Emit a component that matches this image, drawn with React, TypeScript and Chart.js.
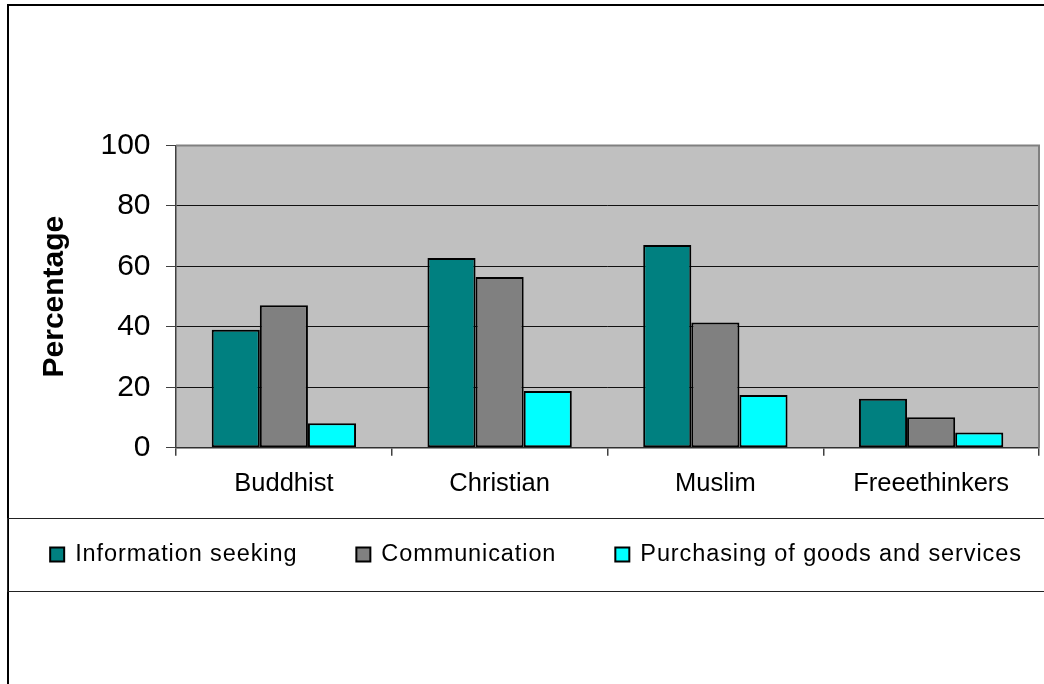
import React, { useEffect, useRef } from "react";
import { Chart, registerables } from "chart.js";

Chart.register(...registerables);

// ---- data ----
const categories = ["Buddhist", "Christian", "Muslim", "Freeethinkers"];
const seriesNames = [
  "Information seeking",
  "Communication",
  "Purchasing of goods and services",
];
const informationSeeking = [39.0, 62.8, 67.1, 16.2];
const communication = [47.1, 56.5, 41.4, 10.1];
const purchasing = [8.1, 18.8, 17.4, 5.0];
const seriesColors = ["#008080", "#808080", "#00FFFF"];
const yAxisTitle = "Percentage";
const yMin = 0;
const yMax = 100;
const yStep = 20;

const FONT = '"Liberation Sans", Arial, Helvetica, sans-serif';

const LEGEND = {
  fontSize: 23.5,
  spacing: "0.9px",
  box: 14,
  gap: 59,
  centerX: 536,
  middleY: 554.2,
  boxTop: 547.5,
};

const decorPlugin = {
  id: "decor",
  beforeDraw(chart: any) {
    const { ctx, chartArea: a } = chart;
    ctx.save();
    ctx.fillStyle = "#C0C0C0";
    ctx.fillRect(a.left, a.top, a.right - a.left, a.bottom - a.top);
    ctx.restore();
  },
  afterDatasetsDraw(chart: any) {
    const { ctx, chartArea: a } = chart;
    ctx.save();
    ctx.strokeStyle = "#808080";
    ctx.lineWidth = 2;
    ctx.beginPath();
    ctx.moveTo(a.left, a.top);
    ctx.lineTo(a.right, a.top);
    ctx.lineTo(a.right, a.bottom);
    ctx.stroke();
    ctx.restore();
  },
  afterDraw(chart: any) {
    const ctx = chart.ctx;
    ctx.save();
    // outer frame
    ctx.strokeStyle = "#000000";
    ctx.lineWidth = 2;
    ctx.strokeRect(8, 5, 1300, 900);
    // legend box
    ctx.strokeStyle = "#222222";
    ctx.lineWidth = 1;
    ctx.strokeRect(7.5, 518.5, 1300, 73);

    // legend items
    ctx.font = `${LEGEND.fontSize}px ${FONT}`;
    (ctx as any).letterSpacing = LEGEND.spacing;
    ctx.textBaseline = "middle";
    ctx.textAlign = "left";
    const items = chart.data.datasets.map((ds: any) => ({
      text: ds.label as string,
      fill: ds.backgroundColor as string,
      stroke: ds.borderColor as string,
      lw: ds.borderWidth as number,
    }));
    const textOffset = LEGEND.box + 11;
    const widths = items.map(
      (it: any) => textOffset + ctx.measureText(it.text).width
    );
    const total =
      widths.reduce((s: number, w: number) => s + w, 0) +
      LEGEND.gap * (items.length - 1);
    let x = LEGEND.centerX - total / 2;
    items.forEach((it: any, i: number) => {
      ctx.fillStyle = it.fill;
      ctx.fillRect(x, LEGEND.boxTop, LEGEND.box, LEGEND.box);
      ctx.strokeStyle = it.stroke;
      ctx.lineWidth = it.lw;
      ctx.strokeRect(x, LEGEND.boxTop, LEGEND.box, LEGEND.box);
      ctx.fillStyle = "#000000";
      ctx.fillText(it.text, x + textOffset, LEGEND.middleY);
      x += widths[i] + LEGEND.gap;
    });
    (ctx as any).letterSpacing = "0px";
    ctx.restore();
  },
};

export default function App() {
  const canvasRef = useRef<HTMLCanvasElement | null>(null);

  useEffect(() => {
    const canvas = canvasRef.current;
    if (!canvas) return;
    const values = [informationSeeking, communication, purchasing];
    const chart = new Chart(canvas, {
      type: "bar",
      data: {
        labels: categories,
        datasets: seriesNames.map((name, i) => ({
          label: name,
          data: values[i],
          backgroundColor: seriesColors[i],
          borderColor: "#000000",
          borderWidth: 2,
          borderSkipped: false,
          categoryPercentage: 0.669,
          barPercentage: 1,
        })),
      },
      options: {
        animation: false,
        responsive: false,
        maintainAspectRatio: false,
        events: [],
        layout: {
          padding: { left: 33, right: 5, top: 145.5, bottom: 176.3 },
        },
        plugins: {
          tooltip: { enabled: false },
          title: { display: false },
          legend: { display: false },
        },
        scales: {
          x: {
            offset: true,
            afterFit(scale: any) {
              scale.height = 60;
            },
            grid: {
              display: true,
              offset: true,
              drawOnChartArea: false,
              drawTicks: true,
              tickLength: 8,
              color: "#404040",
              lineWidth: 1.5,
            },
            border: { display: true, color: "#303030", width: 1.5 },
            ticks: {
              color: "#000000",
              padding: 12.5,
              maxRotation: 0,
              autoSkip: false,
              font: { family: FONT, size: 25.5 },
            },
          },
          y: {
            min: yMin,
            max: yMax,
            afterFit(scale: any) {
              scale.width = 143;
            },
            ticks: {
              stepSize: yStep,
              color: "#000000",
              padding: 15.5,
              font: { family: FONT, size: 30 },
            },
            grid: {
              color: "#111111",
              lineWidth: 1,
              tickColor: "#404040",
              tickLength: 10,
              drawTicks: true,
            },
            border: { display: true, color: "#404040", width: 1.5 },
            title: {
              display: true,
              text: yAxisTitle,
              color: "#000000",
              padding: { top: 3.4, bottom: 0 },
              font: { family: FONT, size: 30, weight: "bold" },
            },
          },
        },
      },
      plugins: [decorPlugin],
    } as any);
    return () => chart.destroy();
  }, []);

  return (
    <div
      style={{
        position: "fixed",
        left: 0,
        top: 0,
        width: 1044,
        height: 684,
        background: "#ffffff",
      }}
    >
      <canvas
        ref={canvasRef}
        width={1044}
        height={684}
        style={{ display: "block", width: 1044, height: 684 }}
      />
    </div>
  );
}
